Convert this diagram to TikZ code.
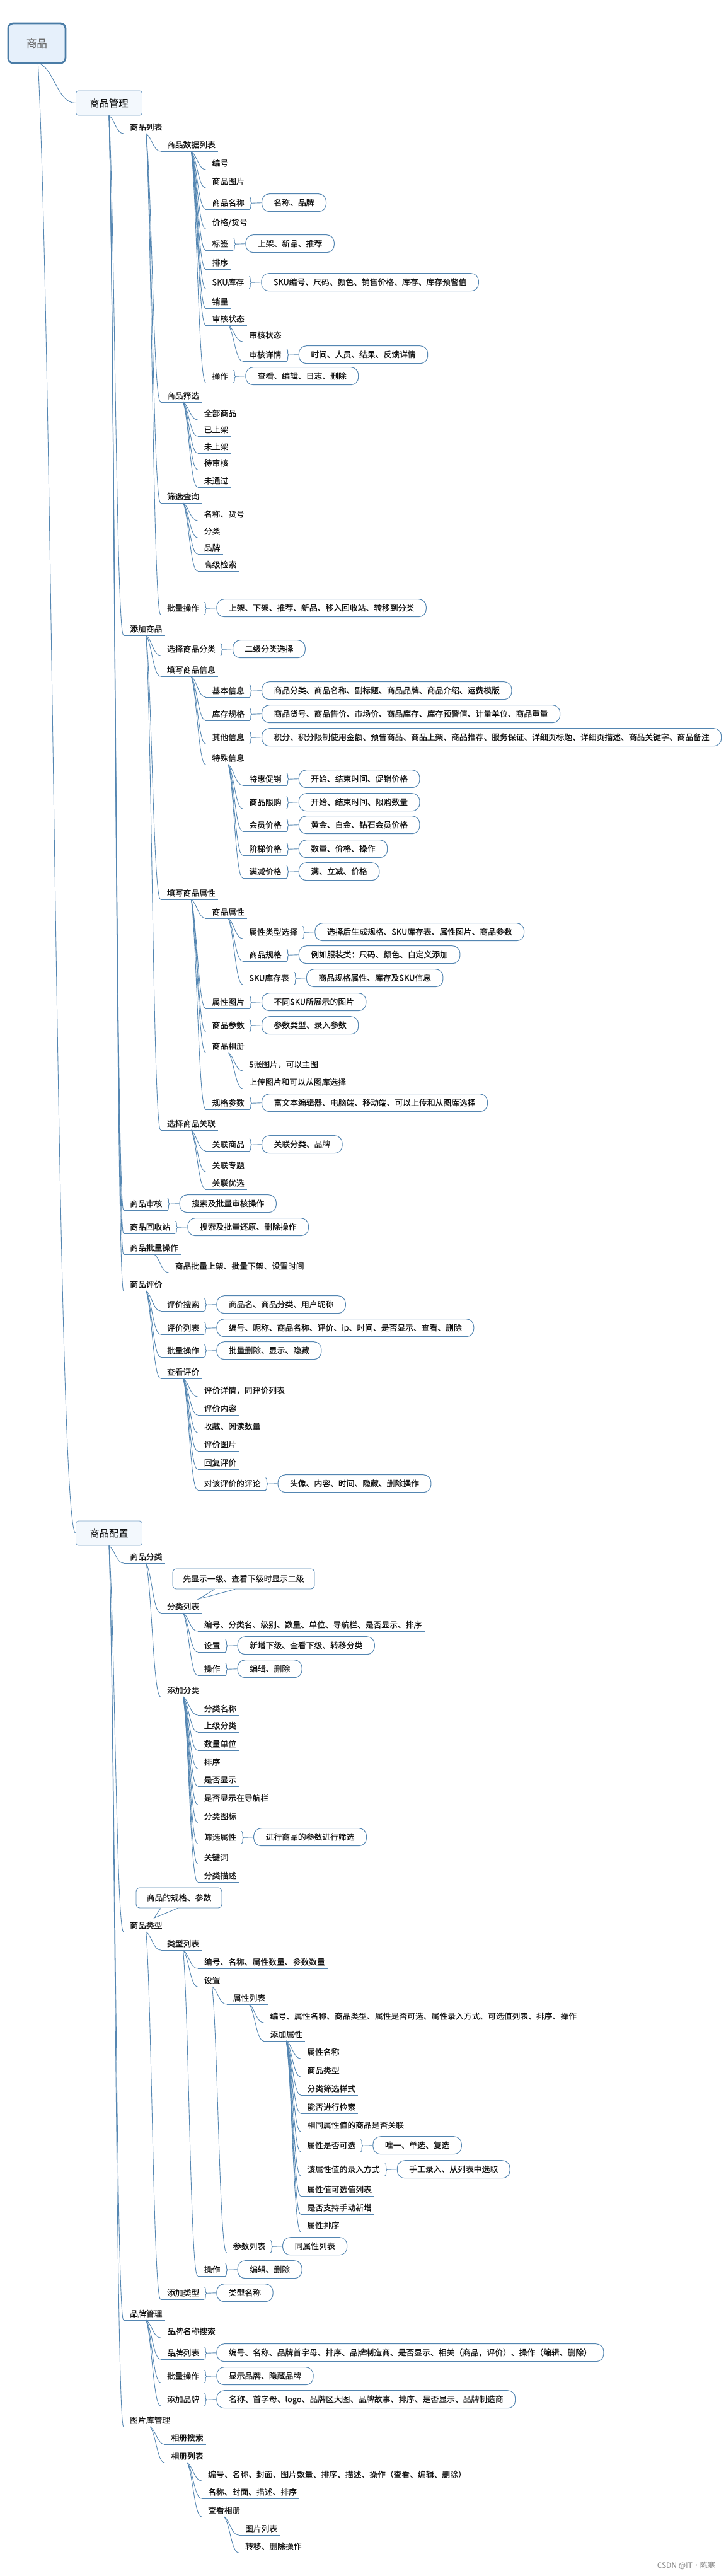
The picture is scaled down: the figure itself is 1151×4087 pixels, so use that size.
\documentclass[tikz,border=0pt]{standalone}
\usepackage{fontspec}
\setmainfont{Noto Sans CJK SC}[FakeBold=0.3]
\usetikzlibrary{calc,decorations.pathreplacing}
\definecolor{lineblue}{HTML}{5486B2}
\definecolor{rootedge}{HTML}{4A7CA6}
\definecolor{rootfill}{HTML}{E6F0FB}
\definecolor{boxedge}{HTML}{7AA3C8}
\definecolor{boxfill}{HTML}{F3F8FD}
\definecolor{txt}{HTML}{141414}
\tikzset{
  topic/.style={inner sep=0pt, anchor=base west, text=txt, font=\fontsize{12.8pt}{15pt}\selectfont},
  uline/.style={draw=lineblue, line width=0.9pt},
  conn/.style={draw=lineblue, line width=0.9pt},
  notebox/.style={draw=lineblue, line width=1pt, rounded corners=12pt, fill=white,
    minimum height=28pt, inner xsep=19pt, inner ysep=0pt, text height=10.5pt, text depth=1.5pt,
    text=txt, font=\fontsize{12.8pt}{15pt}\selectfont},
  callbox/.style={draw=lineblue, line width=0.9pt, rounded corners=6pt, fill=white,
    minimum height=32pt, inner sep=0pt, text height=10.5pt, text depth=1.5pt,
    text=txt, font=\fontsize{12.8pt}{15pt}\selectfont},
  rootbox/.style={draw=rootedge, line width=2.8pt, rounded corners=8pt, fill=rootfill,
    minimum width=91pt, minimum height=63pt, inner sep=0pt, text=black!58,
    font=\fontsize{16.5pt}{19pt}\selectfont},
  mainbox/.style={draw=boxedge, line width=0.9pt, rounded corners=4pt, fill=boxfill,
    minimum width=105pt, minimum height=39pt, inner sep=0pt, text=txt,
    font=\fontsize{15.3pt}{18pt}\selectfont},
  wmark/.style={anchor=east, inner sep=0pt, text=black!40, font=\fontsize{12pt}{14pt}\selectfont}
}
\newcommand\topicnode[4]{%
  \coordinate (tmp) at ($(#2-out)+(33,0)$);
  \coordinate (tmpb) at (tmp |- 0,#3);
  \node[topic] (#1) at ($(tmpb)+(0,-5.5)$) {#4};
  \coordinate (#1-in) at ($(#1.base west)+(-10,5.5)$);
  \coordinate (#1-out) at ($(#1.base)+(0,5.5)$);
  \draw[uline] (#1-in) -- ($(#1.base east)+(4,5.5)$);
  \coordinate (c1a) at ($(#2-out)!0.4!(#1-in)$);
  \coordinate (c1b) at ($(#2-out)!0.2!(#1-in)$);
  \coordinate (c2a) at ($(#2-out)!0.5!(#1-in)$);
  \draw[conn] (#2-out) .. controls (c1a |- c1b) and (c2a |- #1-in) .. (#1-in);
}
\newcommand\notenode[3]{%
  \draw[uline] ($(#2.base east)+(4,5.5)$) -- ($(#2.base east)+(8,5.5)$);
  \draw[conn, decorate, decoration={brace, amplitude=3.5pt}] ($(#2.base east)+(8,-14)$) -- ($(#2.base east)+(8,5.5)$);
  \node[notebox, anchor=west] (#1) at ($(#2.base east)+(27,-4.8)$) {#3};
  \draw[conn] ($(#2.base east)+(11.5,-4.25)$) -- (#1.west);
}
\begin{document}
\begin{tikzpicture}[x=1pt, y=-1pt]
\useasboundingbox[fill=white] (0,0) rectangle (1151,4087);

% main nodes
\node[rootbox] (root) at (58.4,68.5) {商品};
\node[mainbox] (mgmt) at (173,163.5) {商品管理};
\node[mainbox] (conf) at (173,2432.5) {商品配置};
\coordinate (mgmt-out) at (mgmt.south);
\coordinate (conf-out) at (conf.south);
\coordinate (root-a) at ($(root.south)+(6,0)$);
\coordinate (root-b) at ($(root.south)+(2,0)$);
\coordinate (c1a) at ($(root-a)!0.4!(mgmt.west)$);
\coordinate (c1b) at ($(root-a)!0.2!(mgmt.west)$);
\coordinate (c2a) at ($(root-a)!0.5!(mgmt.west)$);
\draw[conn] (root-a) .. controls (c1a |- c1b) and (c2a |- mgmt.west) .. (mgmt.west);
\coordinate (c1a) at ($(root-b)!0.4!(conf.west)$);
\coordinate (c1b) at ($(root-b)!0.2!(conf.west)$);
\coordinate (c2a) at ($(root-b)!0.5!(conf.west)$);
\draw[conn] (root-b) .. controls (c1a |- c1b) and (c2a |- conf.west) .. (conf.west);

% ===== 商品管理 =====
\topicnode{a1}{mgmt}{212}{商品列表}
\topicnode{a11}{a1}{240}{商品数据列表}
\topicnode{a111}{a11}{269}{编号}
\topicnode{a112}{a11}{298}{商品图片}
\topicnode{a113}{a11}{332}{商品名称}
\notenode{a113n}{a113}{名称、品牌}
\topicnode{a114}{a11}{363}{价格/货号}
\topicnode{a115}{a11}{397}{标签}
\notenode{a115n}{a115}{上架、新品、推荐}
\topicnode{a116}{a11}{427}{排序}
\topicnode{a117}{a11}{458}{SKU库存}
\notenode{a117n}{a117}{SKU编号、尺码、颜色、销售价格、库存、库存预警值}
\topicnode{a118}{a11}{489}{销量}
\topicnode{a119}{a11}{516}{审核状态}
\topicnode{a1191}{a119}{542}{审核状态}
\topicnode{a1192}{a119}{573}{审核详情}
\notenode{a1192n}{a1192}{时间、人员、结果、反馈详情}
\topicnode{a11a}{a11}{607}{操作}
\notenode{a11an}{a11a}{查看、编辑、日志、删除}
\topicnode{a12}{a1}{638}{商品筛选}
\topicnode{a121}{a12}{666}{全部商品}
\topicnode{a122}{a12}{692}{已上架}
\topicnode{a123}{a12}{719}{未上架}
\topicnode{a124}{a12}{745}{待审核}
\topicnode{a125}{a12}{773}{未通过}
\topicnode{a13}{a1}{798}{筛选查询}
\topicnode{a131}{a13}{826}{名称、货号}
\topicnode{a132}{a13}{853}{分类}
\topicnode{a133}{a13}{879}{品牌}
\topicnode{a134}{a13}{906}{高级检索}
\topicnode{a14}{a1}{975}{批量操作}
\notenode{a14n}{a14}{上架、下架、推荐、新品、移入回收站、转移到分类}

\topicnode{a2}{mgmt}{1008}{添加商品}
\topicnode{a21}{a2}{1040}{选择商品分类}
\notenode{a21n}{a21}{二级分类选择}
\topicnode{a22}{a2}{1073}{填写商品信息}
\topicnode{a221}{a22}{1106}{基本信息}
\notenode{a221n}{a221}{商品分类、商品名称、副标题、商品品牌、商品介绍、运费模版}
\topicnode{a222}{a22}{1143}{库存规格}
\notenode{a222n}{a222}{商品货号、商品售价、市场价、商品库存、库存预警值、计量单位、商品重量}
\topicnode{a223}{a22}{1180}{其他信息}
\notenode{a223n}{a223}{积分、积分限制使用金额、预告商品、商品上架、商品推荐、服务保证、详细页标题、详细页描述、商品关键字、商品备注}
\topicnode{a224}{a22}{1213}{特殊信息}
\topicnode{a2241}{a224}{1246}{特惠促销}
\notenode{a2241n}{a2241}{开始、结束时间、促销价格}
\topicnode{a2242}{a224}{1283}{商品限购}
\notenode{a2242n}{a2242}{开始、结束时间、限购数量}
\topicnode{a2243}{a224}{1319}{会员价格}
\notenode{a2243n}{a2243}{黄金、白金、钻石会员价格}
\topicnode{a2244}{a224}{1357}{阶梯价格}
\notenode{a2244n}{a2244}{数量、价格、操作}
\topicnode{a2245}{a224}{1393}{满减价格}
\notenode{a2245n}{a2245}{满、立减、价格}
\topicnode{a23}{a2}{1427}{填写商品属性}
\topicnode{a231}{a23}{1457}{商品属性}
\topicnode{a2311}{a231}{1489}{属性类型选择}
\notenode{a2311n}{a2311}{选择后生成规格、SKU库存表、属性图片、商品参数}
\topicnode{a2312}{a231}{1525}{商品规格}
\notenode{a2312n}{a2312}{例如服装类：尺码、颜色、自定义添加}
\topicnode{a2313}{a231}{1562}{SKU库存表}
\notenode{a2313n}{a2313}{商品规格属性、库存及SKU信息}
\topicnode{a232}{a23}{1600}{属性图片}
\notenode{a232n}{a232}{不同SKU所展示的图片}
\topicnode{a233}{a23}{1637}{商品参数}
\notenode{a233n}{a233}{参数类型、录入参数}
\topicnode{a234}{a23}{1670}{商品相册}
\topicnode{a2341}{a234}{1699}{5张图片，可以主图}
\topicnode{a2342}{a234}{1727}{上传图片和可以从图库选择}
\topicnode{a235}{a23}{1760}{规格参数}
\notenode{a235n}{a235}{富文本编辑器、电脑端、移动端、可以上传和从图库选择}
\topicnode{a24}{a2}{1793}{选择商品关联}
\topicnode{a241}{a24}{1826}{关联商品}
\notenode{a241n}{a241}{关联分类、品牌}
\topicnode{a242}{a24}{1859}{关联专题}
\topicnode{a243}{a24}{1887}{关联优选}

\topicnode{a3}{mgmt}{1920}{商品审核}
\notenode{a3n}{a3}{搜索及批量审核操作}
\topicnode{a4}{mgmt}{1957}{商品回收站}
\notenode{a4n}{a4}{搜索及批量还原、删除操作}
\topicnode{a5}{mgmt}{1990}{商品批量操作}
\topicnode{a51}{a5}{2019}{商品批量上架、批量下架、设置时间}
\topicnode{a6}{mgmt}{2048}{商品评价}
\topicnode{a61}{a6}{2080}{评价搜索}
\notenode{a61n}{a61}{商品名、商品分类、用户昵称}
\topicnode{a62}{a6}{2117}{评价列表}
\notenode{a62n}{a62}{编号、昵称、商品名称、评价、ip、时间、是否显示、查看、删除}
\topicnode{a63}{a6}{2153}{批量操作}
\notenode{a63n}{a63}{批量删除、显示、隐藏}
\topicnode{a64}{a6}{2187}{查看评价}
\topicnode{a641}{a64}{2216}{评价详情，同评价列表}
\topicnode{a642}{a64}{2245}{评价内容}
\topicnode{a643}{a64}{2273}{收藏、阅读数量}
\topicnode{a644}{a64}{2302}{评价图片}
\topicnode{a645}{a64}{2331}{回复评价}
\topicnode{a646}{a64}{2364}{对该评价的评论}
\notenode{a646n}{a646}{头像、内容、时间、隐藏、删除操作}

% ===== 商品配置 =====
\topicnode{b1}{conf}{2480}{商品分类}
\topicnode{b11}{b1}{2559}{分类列表}
\topicnode{b111}{b11}{2588}{编号、分类名、级别、数量、单位、导航栏、是否显示、排序}
\topicnode{b112}{b11}{2621}{设置}
\notenode{b112n}{b112}{新增下级、查看下级、转移分类}
\topicnode{b113}{b11}{2658}{操作}
\notenode{b113n}{b113}{编辑、删除}
\topicnode{b12}{b1}{2692}{添加分类}
\topicnode{b121}{b12}{2721}{分类名称}
\topicnode{b122}{b12}{2748}{上级分类}
\topicnode{b123}{b12}{2777}{数量单位}
\topicnode{b124}{b12}{2806}{排序}
\topicnode{b125}{b12}{2834}{是否显示}
\topicnode{b126}{b12}{2863}{是否显示在导航栏}
\topicnode{b127}{b12}{2892}{分类图标}
\topicnode{b128}{b12}{2925}{筛选属性}
\notenode{b128n}{b128}{进行商品的参数进行筛选}
\topicnode{b129}{b12}{2957}{关键词}
\topicnode{b12a}{b12}{2986}{分类描述}

\topicnode{b2}{conf}{3065}{商品类型}
\topicnode{b21}{b2}{3094}{类型列表}
\topicnode{b211}{b21}{3123}{编号、名称、属性数量、参数数量}
\topicnode{b212}{b21}{3152}{设置}
\topicnode{b2121}{b212}{3180}{属性列表}
\topicnode{b21211}{b2121}{3209}{编号、属性名称、商品类型、属性是否可选、属性录入方式、可选值列表、排序、操作}
\topicnode{b21212}{b2121}{3238}{添加属性}
\topicnode{d1}{b21212}{3266}{属性名称}
\topicnode{d2}{b21212}{3295}{商品类型}
\topicnode{d3}{b21212}{3324}{分类筛选样式}
\topicnode{d4}{b21212}{3353}{能否进行检索}
\topicnode{d5}{b21212}{3382}{相同属性值的商品是否关联}
\topicnode{d6}{b21212}{3414}{属性是否可选}
\notenode{d6n}{d6}{唯一、单选、复选}
\topicnode{d7}{b21212}{3452}{该属性值的录入方式}
\notenode{d7n}{d7}{手工录入、从列表中选取}
\topicnode{d8}{b21212}{3484}{属性值可选值列表}
\topicnode{d9}{b21212}{3513}{是否支持手动新增}
\topicnode{d10}{b21212}{3541}{属性排序}
\topicnode{b2122}{b212}{3574}{参数列表}
\notenode{b2122n}{b2122}{同属性列表}
\topicnode{b213}{b21}{3611}{操作}
\notenode{b213n}{b213}{编辑、删除}
\topicnode{b22}{b2}{3648}{添加类型}
\notenode{b22n}{b22}{类型名称}

\topicnode{b3}{conf}{3681}{品牌管理}
\topicnode{b31}{b3}{3709}{品牌名称搜索}
\topicnode{b32}{b3}{3743}{品牌列表}
\notenode{b32n}{b32}{编号、名称、品牌首字母、排序、品牌制造商、是否显示、相关（商品，评价）、操作（编辑、删除）}
\topicnode{b33}{b3}{3780}{批量操作}
\notenode{b33n}{b33}{显示品牌、隐藏品牌}
\topicnode{b34}{b3}{3817}{添加品牌}
\notenode{b34n}{b34}{名称、首字母、logo、品牌区大图、品牌故事、排序、是否显示、品牌制造商}

\topicnode{b4}{conf}{3850}{图片库管理}
\topicnode{b41}{b4}{3878}{相册搜索}
\topicnode{b42}{b4}{3907}{相册列表}
\topicnode{b421}{b42}{3936}{编号、名称、封面、图片数量、排序、描述、操作（查看、编辑、删除）}
\topicnode{b422}{b42}{3964}{名称、封面、描述、排序}
\topicnode{b423}{b42}{3993}{查看相册}
\topicnode{b4231}{b423}{4022}{图片列表}
\topicnode{b4232}{b423}{4050}{转移、删除操作}

% ===== callouts =====
\node[callbox, minimum width=225pt] (call1) at (386.5,2505) {先显示一级、查看下级时显示二级};
\coordinate (call1-tip) at (315,2537);
\fill[white] ($(call1.south)+(-46,-0.8)$) -- (call1-tip) -- ($(call1.south)+(-13.5,-0.8)$) -- cycle;
\draw[conn] ($(call1.south)+(-46,0)$) -- (call1-tip) -- ($(call1.south)+(-13.5,0)$);

\node[callbox, minimum width=136pt] (call2) at (284,3011) {商品的规格、参数};
\coordinate (call2-tip) at (244.7,3043);
\fill[white] ($(call2.south)+(-29,-0.8)$) -- (call2-tip) -- ($(call2.south)+(-2,-0.8)$) -- cycle;
\draw[conn] ($(call2.south)+(-29,0)$) -- (call2-tip) -- ($(call2.south)+(-2,0)$);

% watermark
\node[wmark] (wm) at (1135,4070) {CSDN @IT·陈寒};
\end{tikzpicture}
\end{document}
